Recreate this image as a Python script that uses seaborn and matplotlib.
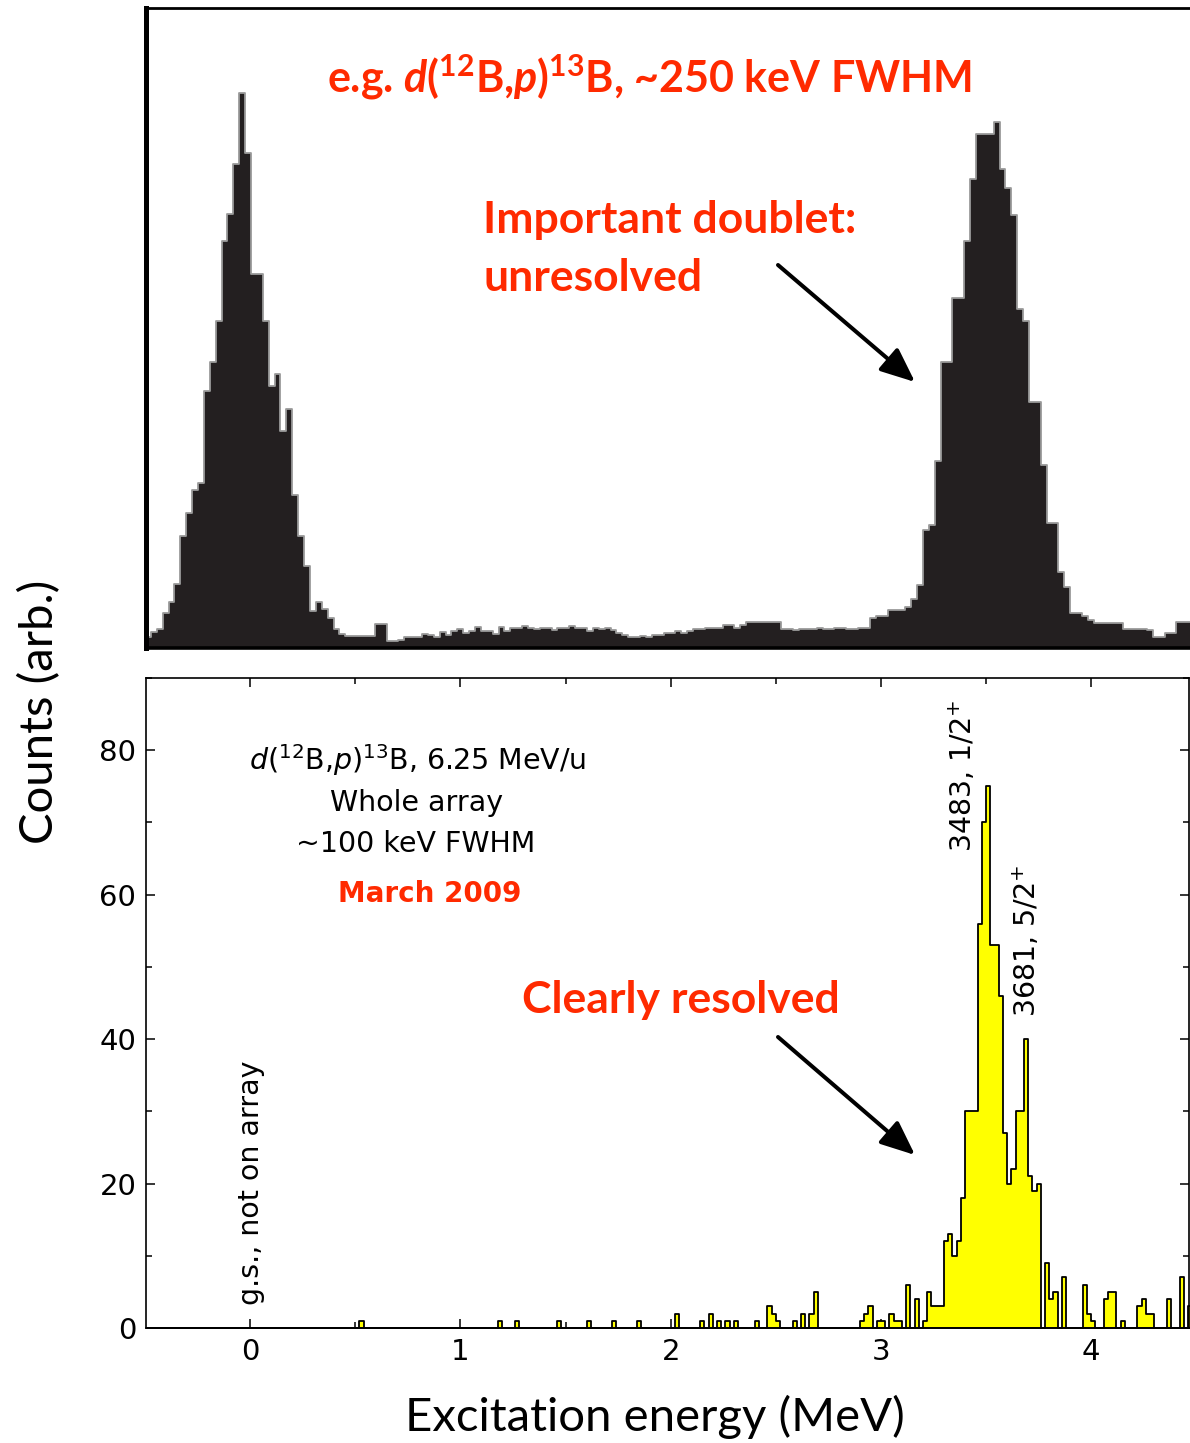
import numpy as np
import matplotlib
matplotlib.use("Agg")
import matplotlib.pyplot as plt
from matplotlib.ticker import MultipleLocator
import seaborn as sns

# ---- lower spectrum (yellow), 20 keV bins, only non-empty bins listed ----
bin_width = 0.02
low_edges = [0.52, 1.18, 1.26, 1.46, 1.60, 1.72, 1.84, 2.02, 2.14, 2.18,
             2.22, 2.26, 2.30, 2.40, 2.46, 2.48, 2.50, 2.58, 2.62, 2.66,
             2.68, 2.90, 2.92, 2.94, 2.98, 3.00, 3.04, 3.06, 3.08, 3.12,
             3.16, 3.20, 3.22, 3.24, 3.26, 3.28, 3.30, 3.32, 3.34, 3.36,
             3.38, 3.40, 3.42, 3.44, 3.46, 3.48, 3.50, 3.52, 3.54, 3.56,
             3.58, 3.60, 3.62, 3.64, 3.66, 3.68, 3.70, 3.72, 3.74, 3.78,
             3.80, 3.82, 3.86, 3.96, 3.98, 4.00, 4.06, 4.08, 4.10, 4.14,
             4.22, 4.24, 4.26, 4.28, 4.36, 4.42, 4.46]
low_counts = [1, 1, 1, 1, 1, 1, 1, 2, 1, 2,
              1, 1, 1, 1, 3, 2, 1, 1, 2, 2,
              5, 1, 2, 3, 1, 1, 2, 1, 1, 6,
              4, 1, 5, 3, 3, 3, 12, 13, 10, 12,
              18, 30, 30, 30, 56, 70, 75, 53, 53, 46,
              27, 20, 22, 30, 30, 40, 21, 19, 20, 9,
              4, 5, 7, 6, 2, 1, 4, 5, 5, 1,
              3, 4, 2, 2, 4, 7, 3]

# ---- upper spectrum (black, older data), 28 keV bins from -0.5 MeV, arb. units ----
top_start = -0.5
top_bin_width = 0.028
top_gs_peak = [2, 3, 3.5, 6.4, 8.4, 11.7, 20.3, 24.5, 28.7, 30,
               46.7, 52, 59.5, 74, 79, 88, 101, 90, 68, 68,
               59.5, 47.7, 49.9, 39.5, 43.5, 27.9, 20.3, 15, 6.7, 8.4,
               7.1, 5.5, 3.5, 2.5, 2.2, 2.2, 2.2, 2.2, 2.2, 4.4, 4.4]
top_background = [1.2, 1.2, 1.5, 2.0, 2.0, 2.0, 2.5, 2.4, 2.0, 3.0,
                  2.4, 3.1, 3.5, 2.8, 3.1, 3.8, 3.1, 3.1, 2.6, 3.8,
                  3.1, 3.7, 3.7, 4.0, 3.7, 3.5, 3.7, 3.7, 3.3, 3.7,
                  3.7, 4.0, 3.7, 3.7, 3.1, 3.7, 3.5, 3.7, 3.3, 2.8,
                  2.4, 2.0, 2.0, 2.2, 2.0, 2.4, 2.4, 2.8, 2.8, 3.1,
                  2.8, 3.1, 3.5, 3.5, 3.7, 3.7, 3.7, 4.2, 4.2, 3.7,
                  4.2, 4.7, 4.7, 4.7, 4.7, 4.7, 4.7, 3.5, 3.5, 3.2,
                  3.5, 3.5, 3.5, 3.7, 3.5, 3.5, 3.7, 3.7, 3.5, 3.5,
                  3.7, 3.7, 5.5, 5.9]
top_doublet_peak = [5.8, 7.0, 7.0, 7.0, 7.5, 8.9, 11.4, 21.5, 22.4, 34,
                    52.1, 52.1, 63.7, 63.7, 74.1, 85.3, 93.4, 93.4, 93.4, 95.6,
                    87.2, 83.7, 78.7, 61.6, 59.5, 44.7, 44.7, 33.3, 22.7, 22.7,
                    13.9, 11.1, 6.4, 6.4, 5.8, 5.1, 4.5, 4.5, 4.5, 4.5, 4.5]
top_tail = [3.5, 3.5, 3.5, 3.5, 3.2, 2.0, 2.0, 2.8, 2.8, 4.7, 4.7, 4.7]

x_range = (-0.495, 4.465)
red = "#ff2a00"

sns.set_style("ticks")
plt.rcParams["font.family"] = ["DejaVu Sans"]
plt.rcParams["text.color"] = "black"
plt.rcParams["axes.edgecolor"] = "black"
plt.rcParams["xtick.color"] = "black"
plt.rcParams["ytick.color"] = "black"
plt.rcParams["mathtext.fontset"] = "dejavusans"
plt.rcParams["mathtext.rm"] = "Lato:bold"
plt.rcParams["mathtext.it"] = "Lato:bold:italic"
plt.rcParams["mathtext.bf"] = "Lato:bold"

W, H = 1190, 1443
fig = plt.figure(figsize=(W / 100, H / 100), dpi=100)


def fx(px):
    return px / W


def fy(py):
    return 1 - py / H


ax_top = fig.add_axes([fx(146), fy(648), (W - 146) / W, 640 / H])
ax_bot = fig.add_axes([fx(146), fy(1328), (1189 - 146) / W, 650 / H])

# upper panel
top_counts = np.array(top_gs_peak + top_background + top_doublet_peak + top_tail)
top_bins = top_start + top_bin_width * np.arange(len(top_counts) + 1)
top_centers = (top_bins[:-1] + top_bins[1:]) / 2
sns.histplot(x=top_centers, weights=top_counts, bins=list(top_bins), element="step",
             fill=True, color="#231f20", facecolor="#231f20", edgecolor="#9a9a9a",
             linewidth=1.3, alpha=1, ax=ax_top)
ax_top.set_xlim(*x_range)
ax_top.set_ylim(0, 116.4)
ax_top.set_xticks([])
ax_top.set_yticks([])
ax_top.set_xlabel("")
ax_top.set_ylabel("")
ax_top.spines["right"].set_visible(False)
ax_top.spines["left"].set_linewidth(3.6)
ax_top.spines["top"].set_linewidth(2.0)
ax_top.spines["bottom"].set_linewidth(2.6)

# lower panel
low_bins = np.round(np.arange(-0.5, 4.5 + bin_width / 2, bin_width), 2)
low_centers = np.array(low_edges) + bin_width / 2
sns.histplot(x=low_centers, weights=low_counts, bins=list(low_bins), element="step",
             fill=True, color="#ffff00", facecolor="#ffff00", edgecolor="black",
             linewidth=1.3, alpha=1, ax=ax_bot)
ax_bot.set_xlim(*x_range)
ax_bot.set_ylim(0, 90)
ax_bot.set_xlabel("")
ax_bot.set_ylabel("")
ax_bot.xaxis.set_major_locator(MultipleLocator(1))
ax_bot.xaxis.set_minor_locator(MultipleLocator(0.5))
ax_bot.yaxis.set_major_locator(MultipleLocator(20))
ax_bot.yaxis.set_minor_locator(MultipleLocator(10))
ax_bot.tick_params(which="both", direction="in", top=True, right=True, width=1.1)
ax_bot.tick_params(which="major", length=6.5, labelsize=21, pad=7)
ax_bot.tick_params(which="minor", length=4.5)
for sp in ax_bot.spines.values():
    sp.set_linewidth(1.2)

# texts, upper panel
fig.text(fx(650), fy(92), r"e.g. $\mathit{d}$($^{12}$B,$\mathit{p}$)$^{13}$B, ~250 keV FWHM",
         ha="center", va="baseline", fontsize=31, family="Lato", weight="bold",
         color=red, math_fontfamily="custom")
fig.text(fx(483), fy(233), "Important doublet:", ha="left", va="baseline",
         fontsize=32, family="Lato", weight="bold", color=red)
fig.text(fx(483), fy(291), "unresolved", ha="left", va="baseline",
         fontsize=32, family="Lato", weight="bold", color=red)
arrow = dict(arrowstyle="-|>,head_length=0.7,head_width=0.3", lw=2.9,
             color="black", mutation_scale=30, shrinkA=0, shrinkB=0)
ax_top.annotate("", xy=(915, H - 382), xycoords="figure pixels",
                xytext=(778, H - 265), textcoords="figure pixels", arrowprops=arrow)

# texts, lower panel
fig.text(fx(418), fy(770), r"$\mathit{d}$($^{12}$B,$\mathit{p}$)$^{13}$B, 6.25 MeV/u",
         ha="center", va="baseline", fontsize=20.5)
fig.text(fx(417), fy(811), "Whole array", ha="center", va="baseline", fontsize=20.5)
fig.text(fx(416), fy(852), "~100 keV FWHM", ha="center", va="baseline", fontsize=20.5)
fig.text(fx(430), fy(902), "March 2009", ha="center", va="baseline", fontsize=20,
         weight="bold", color=red)
fig.text(fx(251), fy(1305), "g.s., not on array", ha="center", va="bottom",
         rotation=90, fontsize=20.5)
fig.text(fx(963), fy(852), r"3483, 1/2$^{+}$", ha="center", va="bottom",
         rotation=90, fontsize=20.5)
fig.text(fx(1027), fy(1017), r"3681, 5/2$^{+}$", ha="center", va="bottom",
         rotation=90, fontsize=20.5)
fig.text(fx(522), fy(1013), "Clearly resolved", ha="left", va="baseline",
         fontsize=32, family="Lato", weight="bold", color=red)
ax_bot.annotate("", xy=(915, H - 1155), xycoords="figure pixels",
                xytext=(778, H - 1037), textcoords="figure pixels", arrowprops=arrow)

# axis titles shared by both panels
fig.text(fx(40), fy(712), "Counts (arb.)", rotation=90, ha="center", va="center",
         fontsize=34, family="Lato")
fig.text(fx(655), fy(1417), "Excitation energy (MeV)", ha="center", va="center",
         fontsize=34, family="Lato")

fig.savefig("out.png", dpi=100)
